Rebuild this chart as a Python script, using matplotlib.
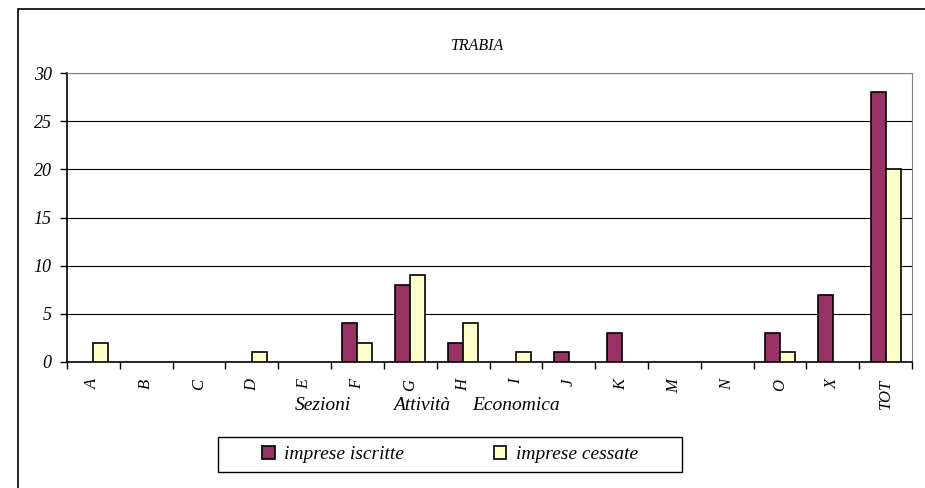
import matplotlib.pyplot as plt
import numpy as np
from matplotlib.patches import Rectangle, Patch

# Data
categories = ["A", "B", "C", "D", "E", "F", "G", "H", "I", "J", "K", "M", "N", "O", "X", "TOT"]
iscritte = [0, 0, 0, 0, 0, 4, 8, 2, 0, 1, 3, 0, 0, 3, 7, 28]
cessate = [2, 0, 0, 1, 0, 2, 9, 4, 1, 0, 0, 0, 0, 1, 0, 20]

plt.rcParams['font.family'] = ['Liberation Serif', 'DejaVu Serif']
plt.rcParams['font.style'] = 'italic'

fig = plt.figure(figsize=(9.25, 4.88), dpi=100)
W, H = 925, 488

# outer frame (runs off right and bottom edges)
fig.patches.append(Rectangle((18 / W, -0.1), 1.2, 1 - 9 / H + 0.1, transform=fig.transFigure,
                             fill=False, edgecolor="black", linewidth=1.2))

ax = fig.add_axes([67 / W, (H - 362) / H, (912 - 67) / W, (362 - 73) / H])

x = np.arange(len(categories))
w = 0.284
# zero values get no outline, as in the original
ax.bar(x - w / 2, iscritte, w, color="#993366",
       edgecolor=["black" if v else "none" for v in iscritte], linewidth=1.2, zorder=3)
ax.bar(x + w / 2, cessate, w, color="#FFFFCC",
       edgecolor=["black" if v else "none" for v in cessate], linewidth=1.2, zorder=3)

ax.set_xlim(-0.5, len(categories) - 0.5)
ax.set_ylim(0, 30)
ax.set_yticks(range(0, 31, 5))
ax.set_yticklabels([str(v) for v in range(0, 31, 5)], fontsize=13)
ax.yaxis.grid(True, color="black", linewidth=0.8, zorder=0)

# ticks between categories, labels at centers
ax.set_xticks(np.arange(-0.5, len(categories), 1.0))
ax.set_xticklabels([])
ax.set_xticks(x, minor=True)
ax.set_xticklabels(categories, minor=True, rotation=90, fontsize=12, va="top")
ax.tick_params(axis="x", which="minor", length=0, pad=12)
ax.tick_params(axis="x", which="major", direction="out", length=5, width=1)
ax.tick_params(axis="y", direction="out", length=5, width=1, pad=6)

for s in ["top", "right"]:
    ax.spines[s].set_color("#808080")
for s in ["left", "bottom"]:
    ax.spines[s].set_color("black")
    ax.spines[s].set_linewidth(1.2)

fig.text(478 / W, 1 - 46 / H, "TRABIA", fontsize=11.5, ha="center", va="center")
fig.text(323 / W, 1 - 406 / H, "Sezioni", fontsize=14, ha="center", va="center")
fig.text(422 / W, 1 - 406 / H, "Attività", fontsize=14, ha="center", va="center")
fig.text(516 / W, 1 - 406 / H, "Economica", fontsize=14, ha="center", va="center")

# legend box
fig.patches.append(Rectangle((218 / W, 1 - 472 / H), (682 - 218) / W, 35 / H,
                             transform=fig.transFigure, facecolor="white",
                             edgecolor="black", linewidth=1.0))
handles = [Patch(facecolor="#993366", edgecolor="black", linewidth=1.2, label="imprese iscritte"),
           Patch(facecolor="#FFFFCC", edgecolor="black", linewidth=1.2, label="imprese cessate")]
leg = fig.legend(handles=handles, loc="center", bbox_to_anchor=(450 / W, 1 - 454.5 / H), ncol=2,
                 frameon=False, fontsize=14,
                 handlelength=0.65, handleheight=0.65, handletextpad=0.5, columnspacing=4.6,
                 borderpad=0, borderaxespad=0)

fig.savefig("out.png", dpi=100)
